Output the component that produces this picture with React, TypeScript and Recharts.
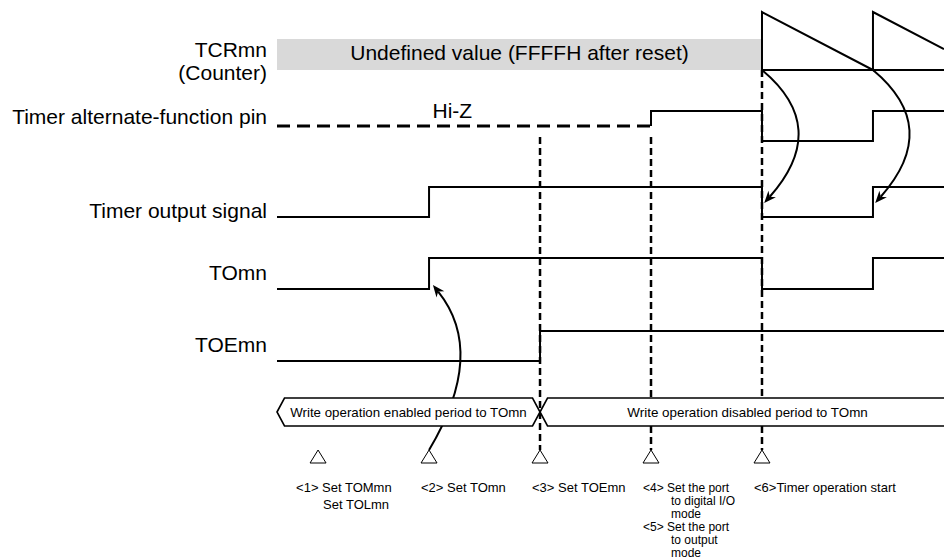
import React from 'react';
import { ComposedChart, Line, XAxis, YAxis, ReferenceArea, ReferenceLine, ReferenceDot } from 'recharts';

// time axis in timer periods; <1> is at t = 0
const T0 = -0.37;
const T_END = 5.64;

const eventTimes = [0, 1, 2, 3, 4];
const eventLabels = [
  ['<1> Set TOMmn', 'Set TOLmn'],
  ['<2> Set TOmn'],
  ['<3> Set TOEmn'],
  ['<4> Set the port', 'to digital I/O', 'mode', '<5> Set the port', 'to output', 'mode'],
  ['<6>Timer operation start'],
];

const signalNames = [['TCRmn', '(Counter)'], ['Timer alternate-function pin'], ['Timer output signal'], ['TOmn'], ['TOEmn']];

// [time, level]  level 1 = high, 0 = low, 0.5 = Hi-Z
const counterWave = [[4, 0], [4, 1], [5, 0], [5, 1], [T_END, 0.36]];
const counterBase = [[4, 0], [T_END, 0]];
const pinHiZ = [[T0, 0.5], [3, 0.5]];
const pinWave = [[3, 0.5], [3, 1], [4, 0], [5, 1], [T_END, 1]];
const outWave = [[T0, 0], [1, 1], [4, 0], [5, 1], [T_END, 1]];
const tomnWave = [[T0, 0], [1, 1], [4, 0], [5, 1], [T_END, 1]];
const toeWave = [[T0, 0], [2, 1], [T_END, 1]];

const periodTexts = ['Write operation enabled period to TOmn', 'Write operation disabled period to TOmn'];
const undefinedText = 'Undefined value (FFFFH after reset)';

// layout (vertical positions of lanes, in px from top)
const LANES = {
  counter: { base: 70, amp: 58 },
  pin: { base: 141, amp: 30 },
  out: { base: 217, amp: 30 },
  tomn: { base: 289, amp: 31 },
  toe: { base: 361, amp: 30 },
};
const LABEL_Y = [[57, 80], [124], [218], [280], [352]];
const BAR = { top: 398, bottom: 426, text: 417 };
const TRI_Y = 450;
const FONT = '"Liberation Sans", Arial, Helvetica, sans-serif';

const wave = (pts: number[][], lane: { base: number; amp: number }) =>
  pts.map(([t, v]) => ({ t, y: lane.base - v * lane.amp }));

const textShape = (lines: string[], ys: number[], anchor: string, size: number, dx = 0) => (p: any) => (
  <g>
    {lines.map((s, i) => (
      <text key={i} x={p.cx + dx} y={ys[i]} textAnchor={anchor} fontSize={size} fontFamily={FONT} fill="#000">
        {s}
      </text>
    ))}
  </g>
);

const eventTextShape = (lines: string[], idx: number) => (p: any) => {
  const indent = idx === 0 ? [-22, 5] : lines.map((s) => (s.startsWith('<') ? -8 : 20));
  const step = idx === 0 ? 17 : 13;
  const size = lines.length > 2 ? 12 : 13;
  return (
    <g>
      {lines.map((s, i) => (
        <text key={i} x={p.cx + indent[i]} y={492 + i * step} fontSize={size} fontFamily={FONT} fill="#000">
          {s}
        </text>
      ))}
    </g>
  );
};

const triShape = (p: any) => (
  <polygon points={`${p.cx},${p.cy} ${p.cx - 8},${p.cy + 13} ${p.cx + 8},${p.cy + 13}`} fill="#fff" stroke="#000" strokeWidth={1} />
);

// period bar drawn from a diagonal segment (x1,y1)-(x2,y2)
const barShape = (openRight: boolean) => (p: any) => {
  const x = Math.min(p.x1, p.x2);
  const w = Math.abs(p.x2 - p.x1);
  const y = Math.min(p.y1, p.y2);
  const h = Math.abs(p.y2 - p.y1);
  const s = 7.5;
  const m = y + h / 2;
  const right = openRight
    ? `L${x + w + 12},${y} L${x + w + 12},${y + h}`
    : `L${x + w - s},${y} L${x + w},${m} L${x + w - s},${y + h}`;
  return <path d={`M${x},${m} L${x + s},${y} ${right} L${x + s},${y + h} Z`} fill="#fff" stroke="#000" strokeWidth={1.6} />;
};

const arrowShape = (bend: number[]) => (p: any) => {
  const { x1, y1, x2, y2 } = p;
  const cx = (x1 + x2) / 2 + bend[0];
  const cy = (y1 + y2) / 2 + bend[1];
  const a = Math.atan2(y2 - cy, x2 - cx);
  const L = 12;
  const W = 5;
  const bx = x2 - L * Math.cos(a);
  const by = y2 - L * Math.sin(a);
  const nx = x2 - L * 0.7 * Math.cos(a);
  const ny = y2 - L * 0.7 * Math.sin(a);
  const head = `${x2},${y2} ${bx + W * Math.sin(a)},${by - W * Math.cos(a)} ${nx},${ny} ${bx - W * Math.sin(a)},${by + W * Math.cos(a)}`;
  return (
    <g>
      <path d={`M${x1},${y1} Q${cx},${cy} ${nx},${ny}`} fill="none" stroke="#000" strokeWidth={2} />
      <polygon points={head} fill="#000" />
    </g>
  );
};

const ARROWS = [
  { from: [1, TRI_Y], to: [1.035, 285], bend: [56, -15] },
  { from: [4, 70], to: [4.02, 203], bend: [68, -9] },
  { from: [5, 70], to: [5.02, 203], bend: [68, -9] },
];

const DASHED = [
  { t: 2, segs: [[137, TRI_Y]] },
  { t: 3, segs: [[137, BAR.top], [BAR.bottom, TRI_Y]] },
  { t: 4, segs: [[70, BAR.top], [BAR.bottom, TRI_Y]] },
];

const lineProps = { dataKey: 'y', stroke: '#000', dot: false, activeDot: false, isAnimationActive: false } as const;

export default function App() {
  return (
    <div style={{ position: 'absolute', left: 0, top: 0, width: 944, height: 560, background: '#fff' }}>
      <ComposedChart width={944} height={560} margin={{ top: 0, right: 0, bottom: 0, left: 277 }}>
        <XAxis type="number" dataKey="t" domain={[T0, T_END]} allowDataOverflow hide />
        <YAxis type="number" domain={[0, 560]} reversed allowDataOverflow hide />

        <ReferenceArea x1={T0} x2={4} y1={39} y2={70} fill="#d9d9d9" fillOpacity={1} stroke="none" />

        <Line {...lineProps} data={wave(counterWave, LANES.counter)} type="linear" strokeWidth={2} />
        <Line {...lineProps} data={wave(counterBase, LANES.counter)} type="linear" strokeWidth={2} />
        <Line {...lineProps} data={wave(pinHiZ, LANES.pin)} type="linear" strokeWidth={3} strokeDasharray="13 7" />
        <Line {...lineProps} data={wave(pinWave, LANES.pin)} type="stepAfter" strokeWidth={2} />
        <Line {...lineProps} data={wave(outWave, LANES.out)} type="stepAfter" strokeWidth={2} />
        <Line {...lineProps} data={wave(tomnWave, LANES.tomn)} type="stepAfter" strokeWidth={2} />
        <Line {...lineProps} data={wave(toeWave, LANES.toe)} type="stepAfter" strokeWidth={2} />

        {DASHED.map((d) =>
          d.segs.map((s, i) => (
            <ReferenceLine
              key={`d${d.t}-${i}`}
              segment={[{ x: d.t, y: s[0] }, { x: d.t, y: s[1] }]}
              stroke="#000"
              strokeWidth={2.5}
              strokeDasharray="7 4"
            />
          ))
        )}

        {ARROWS.map((a, i) => (
          <ReferenceLine
            key={`a${i}`}
            segment={[{ x: a.from[0], y: a.from[1] }, { x: a.to[0], y: a.to[1] }]}
            shape={arrowShape(a.bend)}
          />
        ))}

        <ReferenceLine segment={[{ x: T0, y: BAR.top }, { x: 2, y: BAR.bottom }]} shape={barShape(false)} />
        <ReferenceLine segment={[{ x: 2, y: BAR.top }, { x: T_END, y: BAR.bottom }]} shape={barShape(true)} />

        <ReferenceDot x={(T0 + 2) / 2} y={BAR.text} shape={textShape([periodTexts[0]], [BAR.text], 'middle', 13.3)} />
        <ReferenceDot x={3.87} y={BAR.text} shape={textShape([periodTexts[1]], [BAR.text], 'middle', 13.4)} />
        <ReferenceDot x={(T0 + 4) / 2} y={60} shape={textShape([undefinedText], [60], 'middle', 21)} />
        <ReferenceDot x={1.21} y={118} shape={textShape(['Hi-Z'], [118], 'middle', 21)} />

        {signalNames.map((lines, i) => (
          <ReferenceDot key={`n${i}`} x={T0} y={LABEL_Y[i][0]} shape={textShape(lines, LABEL_Y[i], 'end', 21, -10)} />
        ))}

        {eventTimes.map((t, i) => (
          <ReferenceDot key={`tri${i}`} x={t} y={TRI_Y} shape={triShape} />
        ))}
        {eventTimes.map((t, i) => (
          <ReferenceDot key={`ev${i}`} x={t} y={492} shape={eventTextShape(eventLabels[i], i)} />
        ))}
      </ComposedChart>
    </div>
  );
}
